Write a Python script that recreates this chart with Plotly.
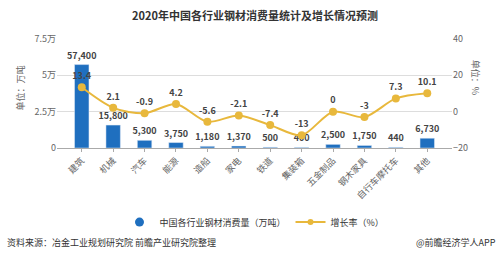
import plotly.graph_objects as go

categories = ["建筑", "机械", "汽车", "能源", "造船", "家电", "铁道", "集装箱", "五金制品", "钢木家具", "自行车摩托车", "其他"]
consumption = [57400, 15800, 5300, 3750, 1180, 1370, 500, 400, 2500, 1750, 440, 6730]
growth = [13.4, 2.1, -0.9, 4.2, -5.6, -2.1, -7.4, -13, 0, -3, 7.3, 10.1]
left_ticks = [0, 25000, 50000, 75000]
left_tick_text = ["0", "2.5万", "5万", "7.5万"]
right_ticks = [-20, 0, 20, 40]

FONT = "Noto Sans CJK SC"
BLUE = "#1F6FBF"
GOLD = "#E8B83C"
fig = go.Figure()
fig.add_trace(go.Bar(
    x=categories, y=consumption, name="中国各行业钢材消费量（万吨）", showlegend=False,
    marker_color=BLUE, width=0.46,
    text=[f"<b>{v:,}</b>" for v in consumption], textposition="outside", constraintext="none",
    textfont=dict(size=9, color="#444", family=FONT), cliponaxis=False,
))
fig.add_trace(go.Scatter(
    x=categories, y=growth, name="增长率（%）", yaxis="y2", showlegend=False,
    mode="lines+markers+text", line=dict(color=GOLD, width=2, shape="spline", smoothing=0.8),
    marker=dict(size=8, color=GOLD),
    text=[f"<b>{v:g}</b>" for v in growth], textposition="top center",
    textfont=dict(size=9, color="#444", family=FONT), cliponaxis=False,
))
# legend entries
fig.add_trace(go.Scatter(x=[None], y=[None], mode="markers", name="中国各行业钢材消费量（万吨）",
                         marker=dict(size=9, color=BLUE, symbol="circle")))
fig.add_trace(go.Scatter(x=[None], y=[None], mode="lines+markers", name="增长率（%）",
                         line=dict(color=GOLD, width=2), marker=dict(size=6, color=GOLD)))
fig.update_layout(
    width=500, height=260, margin=dict(l=57, r=48, t=39, b=112),
    paper_bgcolor="white", plot_bgcolor="white",
    font=dict(family=FONT, size=9, color="#666"),
    showlegend=True,
    legend=dict(orientation="h", x=0.5, xanchor="center", y=-0.68, yanchor="middle",
                font=dict(size=9, color="#333"), itemwidth=30),
    xaxis=dict(tickangle=-45, tickfont=dict(size=9, color="#666"), showline=True,
               linecolor="#aaa", ticks="outside", ticklen=3, tickcolor="#aaa"),
    yaxis=dict(range=[0, 75000], tickvals=left_ticks, ticktext=left_tick_text,
               gridcolor="#ddd", zeroline=False, tickfont=dict(size=9, color="#666")),
    yaxis2=dict(range=[-20, 40], tickvals=right_ticks, overlaying="y", side="right",
                showgrid=False, zeroline=False, tickfont=dict(size=9, color="#666")),
    bargap=0.5,
)
fig.add_annotation(text="<b>2020年中国各行业钢材消费量统计及增长情况预测</b>", xref="paper", yref="paper",
                   x=0.5, y=1, yshift=24, showarrow=False, font=dict(size=11, color="#333"),
                   xanchor="center", yanchor="middle")
fig.add_annotation(text="单位：万吨", xref="paper", yref="paper", x=0, xshift=-45, y=0.55,
                   textangle=-90, showarrow=False, font=dict(size=9, color="#666"))
fig.add_annotation(text="单位：%", xref="paper", yref="paper", x=1, xshift=32, y=0.65,
                   textangle=90, showarrow=False, font=dict(size=9, color="#666"))
fig.add_annotation(text="资料来源：冶金工业规划研究院 前瞻产业研究院整理", xref="paper", yref="paper",
                   x=0, xshift=-52, xanchor="left", y=-0.87, yanchor="middle", showarrow=False,
                   font=dict(size=9, color="#333"))
fig.add_annotation(text="@前瞻经济学人APP", xref="paper", yref="paper",
                   x=1, xshift=46, xanchor="right", y=-0.87, yanchor="middle", showarrow=False,
                   font=dict(size=9, color="#333"))
fig.write_html("out.html")
